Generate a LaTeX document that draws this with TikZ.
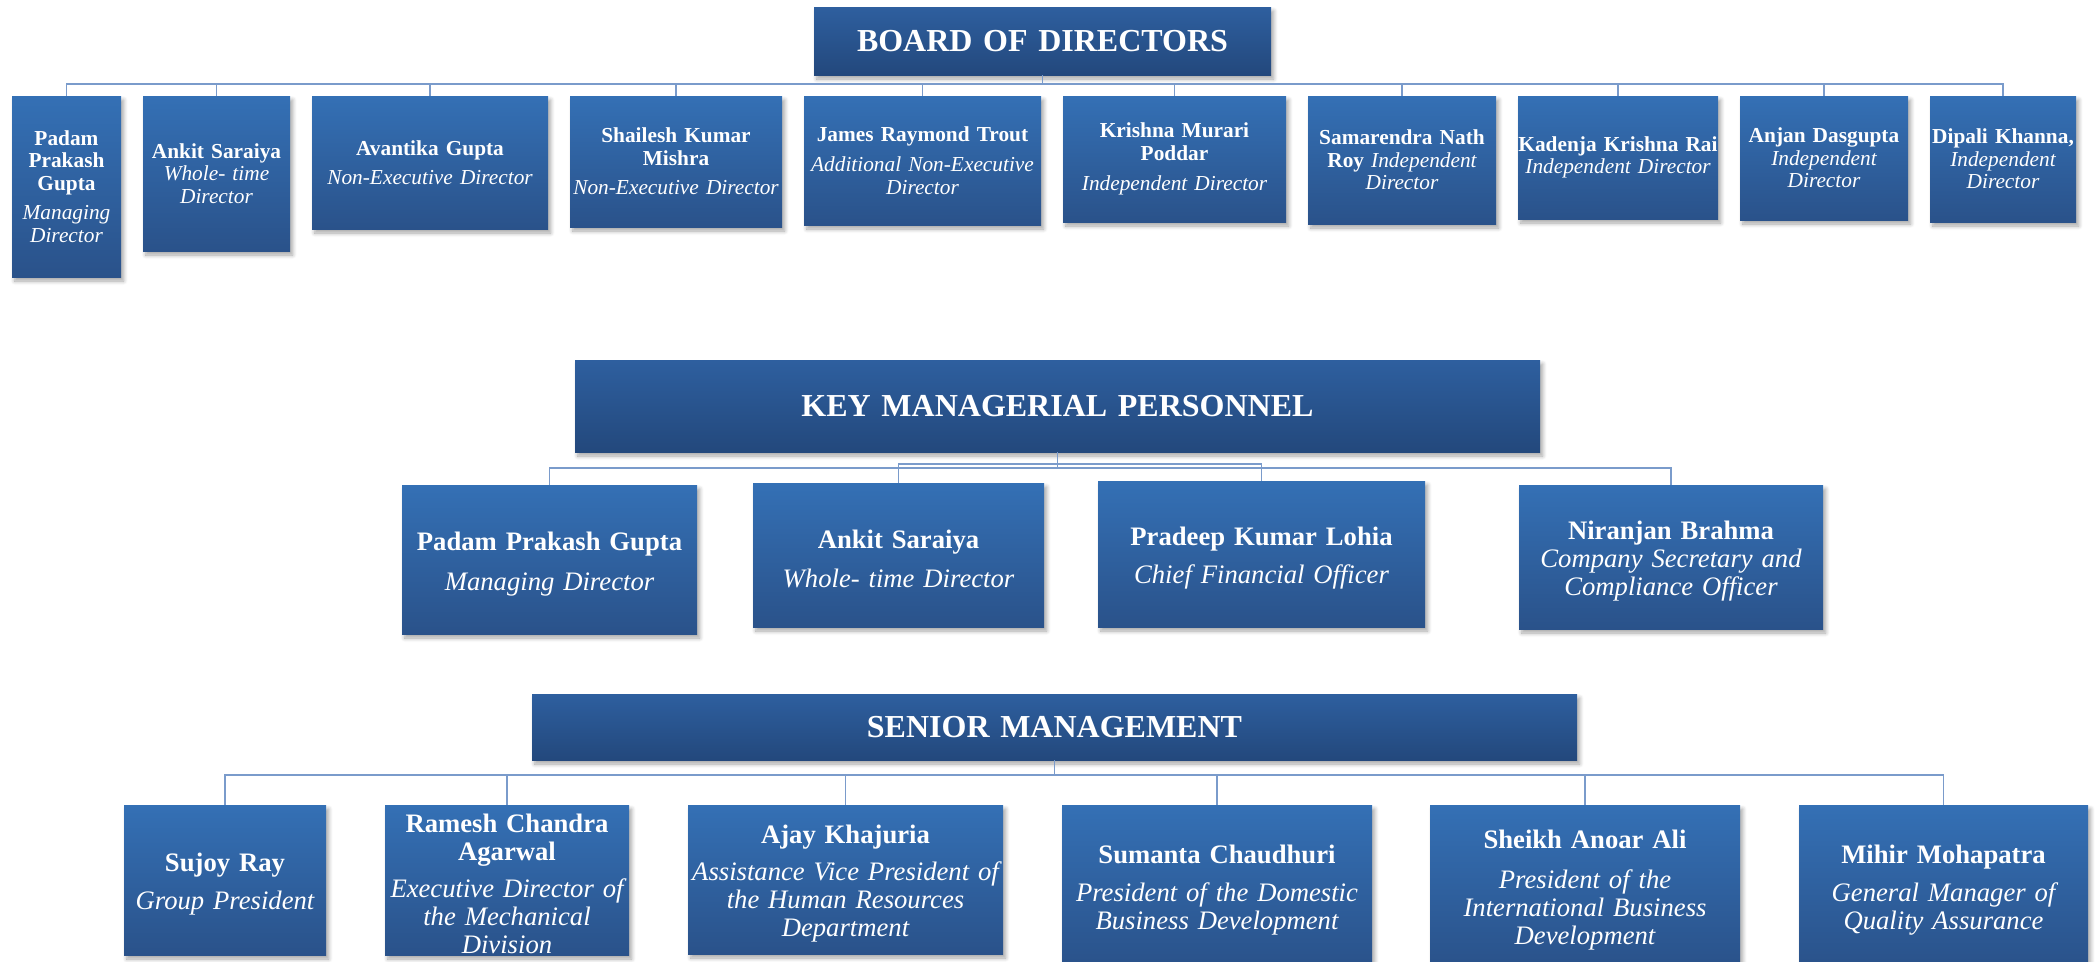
\documentclass[tikz,border=0pt]{standalone}
\usepackage{fontspec}
\setmainfont{Liberation Serif}
\usetikzlibrary{shadows.blur}
\newcommand{\pxu}{0.75pt}
\definecolor{memtop}{HTML}{3470B5}
\definecolor{membot}{HTML}{2A528A}
\definecolor{headtop}{HTML}{2E5F9F}
\definecolor{headbot}{HTML}{23487C}
\definecolor{linkc}{HTML}{7A9BCB}
\tikzset{
  boxsize/.style n args={2}{/utils/exec={\pgfmathsetlengthmacro\boxw{#1*\pxu}},
    minimum width=#1*\pxu, text width=\boxw, minimum height=#2*\pxu},
  shd/.style={blur shadow={shadow xshift=2pt, shadow yshift=-3pt, shadow blur radius=3pt, shadow blur steps=6, shadow opacity=35}},
  head/.style n args={2}{rectangle, boxsize={#1}{#2}, inner sep=0pt, align=center, text=white,
    top color=headtop, bottom color=headbot, shd, font=\fontsize{24}{28}\selectfont\bfseries},
  mem/.style n args={2}{rectangle, boxsize={#1}{#2}, inner sep=0pt, align=center, text=white,
    top color=memtop, bottom color=membot, shd},
  bd/.style={font=\fontsize{16}{16.9}\selectfont},
  mg/.style={font=\fontsize{20}{21}\selectfont, execute at begin node={\rule{0pt}{20pt}}},
  lnk/.style={draw=linkc, line width=1.2pt}
}
\begin{document}
\begin{tikzpicture}[x=0.75pt, y=-0.75pt]
  \useasboundingbox (0,0) rectangle (2096,961);
  \clip (0,0) rectangle (2096,961);
  % board of directors
  \node[head={457}{68}] (bod) at (1042.5,41) {BOARD OF DIRECTORS};
  \node[mem={109}{181}, bd] (pbod) at (66.5,186.5) {{\bfseries Padam\\Prakash\\Gupta}\\[5pt]{\itshape Managing\\Director}};
  \node[mem={147}{155}, bd] (abod) at (216.5,173.5) {{\bfseries Ankit Saraiya}\\{\itshape Whole- time\\Director}};
  \node[mem={236}{133}, bd] (avbod) at (430,162.5) {{\bfseries Avantika Gupta}\\[5pt]{\itshape Non-Executive Director}};
  \node[mem={212}{131}, bd] (sbod) at (676,161.5) {{\bfseries Shailesh Kumar\\Mishra}\\[5.5pt]{\itshape Non-Executive Director}};
  \node[mem={237}{129}, bd] (jbod) at (922.5,160.5) {{\bfseries James Raymond Trout}\\[6pt]{\itshape Additional Non-Executive\\Director}};
  \node[mem={223}{126}, bd] (kbod) at (1174.5,159) {{\bfseries Krishna Murari\\Poddar}\\[6pt]{\itshape Independent Director}};
  \node[mem={188}{128}, bd] (srbod) at (1402,160) {{\bfseries Samarendra Nath\\Roy} {\itshape Independent\\Director}};
  \node[mem={200}{123}, bd] (kkbod) at (1618,157.5) {{\bfseries Kadenja Krishna Rai}\\{\itshape Independent Director}};
  \node[mem={168}{124}, bd] (adbod) at (1824,158) {{\bfseries Anjan Dasgupta}\\{\itshape Independent\\Director}};
  \node[mem={146}{126}, bd] (dkbod) at (2003,159) {{\bfseries Dipali Khanna,}\\{\itshape Independent\\Director}};
  \coordinate (busa) at (0,84);
  \foreach \n in {pbod,abod,avbod,sbod,jbod,kbod,srbod,kkbod,adbod,dkbod}
    \draw[lnk] (bod.south) -- (bod.south |- busa) -| (\n.north);

  % key managerial personnel
  \node[head={965}{92}] (kmp) at (1057.5,406) {KEY MANAGERIAL PERSONNEL};
  \node[mem={295}{149}, mg] (pkmp) at (549.5,559.5) {{\bfseries Padam Prakash Gupta}\\[9pt]{\itshape Managing Director}};
  \node[mem={291}{144}, mg] (akmp) at (898.5,555) {{\bfseries Ankit Saraiya}\\[8pt]{\itshape Whole- time Director}};
  \node[mem={327}{146}, mg] (plkmp) at (1261.5,554) {{\bfseries Pradeep Kumar Lohia}\\[8pt]{\itshape Chief Financial Officer}};
  \node[mem={304}{144}, mg] (nkmp) at (1671,557) {{\bfseries Niranjan Brahma}\\{\itshape Company Secretary and\\Compliance Officer}};
  \coordinate (busb) at (0,468);
  \coordinate (busc) at (0,464);
  \draw[lnk] (kmp.south) -- (kmp.south |- busb) -| (pkmp.north);
  \draw[lnk] (kmp.south) -- (kmp.south |- busb) -| (nkmp.north);
  \draw[lnk] (kmp.south) -- (kmp.south |- busc) -| (akmp.north);
  \draw[lnk] (kmp.south) -- (kmp.south |- busc) -| (plkmp.north);

  % senior management
  \node[head={1045}{66}] (sm) at (1054.5,727) {SENIOR MANAGEMENT};
  \node[mem={202}{150}, mg] (sr) at (225,880) {{\bfseries Sujoy Ray}\\[8pt]{\itshape Group President}};
  \node[mem={244}{150}, mg] (rca) at (507,880) {{\bfseries Ramesh Chandra\\Agarwal}\\[7pt]{\itshape Executive Director of\\the Mechanical\\Division}};
  \node[mem={315}{149}, mg] (ajk) at (845.5,879.5) {{\bfseries Ajay Khajuria}\\[7pt]{\itshape Assistance Vice President of\\the Human Resources\\Department}};
  \node[mem={310}{162}, mg] (sc) at (1217,886) {{\bfseries Sumanta Chaudhuri}\\[8pt]{\itshape President of the Domestic\\Business Development}};
  \node[mem={310}{162}, mg] (saa) at (1585,886) {{\bfseries Sheikh Anoar Ali}\\[9pt]{\itshape President of the\\International Business\\Development}};
  \node[mem={289}{162}, mg] (mm) at (1943.5,886) {{\bfseries Mihir Mohapatra}\\[8pt]{\itshape General Manager of\\Quality Assurance}};
  \coordinate (busd) at (0,775);
  \foreach \n in {sr,rca,ajk,sc,saa,mm}
    \draw[lnk] (sm.south) -- (sm.south |- busd) -| (\n.north);
\end{tikzpicture}
\end{document}
